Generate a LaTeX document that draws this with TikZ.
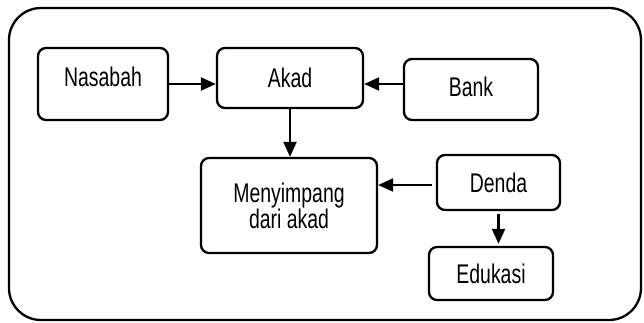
\documentclass[tikz,border=0pt]{standalone}
\usepackage{fontspec}
\setmainfont{Liberation Sans}[FakeStretch=0.72]
\usepackage{tikz}
\usetikzlibrary{calc,arrows.meta}

\tikzset{
  box/.style={draw, line width=2.3pt, rounded corners=8pt, inner sep=0pt},
  txt/.style={text height=19pt, text depth=#1},
  txt/.default=0pt,
  arr/.style={line width=2.2pt, -{Triangle[length=15pt,width=13pt]}}
}

\begin{document}
\begin{tikzpicture}[x=1pt, y=-1pt, font=\fontsize{27}{26}\selectfont]
        \useasboundingbox (0,0) rectangle (644,322);
        \draw[line width=2.3pt, rounded corners=32pt] (9,8) rectangle (641,320);
        \node[box, txt=14pt, minimum width=130pt, minimum height=72pt] (nasabah) at (103,84) {Nasabah};
        \node[box, txt, minimum width=146pt, minimum height=60pt] (akad) at (290,78) {Akad};
        \node[box, txt=5pt, minimum width=134pt, minimum height=61pt] (bank) at (471,89.5) {Bank};
        \node[box, align=center, minimum width=176pt, minimum height=95pt] (menyimpang) at (289,205.5) {Menyimpang\\dari akad};
        \node[box, txt, minimum width=123pt, minimum height=55pt] (denda) at (498.5,182.5) {Denda};
        \node[box, txt, minimum width=124pt, minimum height=53pt] (edukasi) at (491,273.5) {Edukasi};
        \draw[arr] (nasabah.east) -- (nasabah.east -| akad.west);
        \draw[arr] (bank.west |- nasabah.east) -- (nasabah.east -| akad.east);
        \draw[arr] (akad.south) -- (akad.south |- menyimpang.north);
        \draw[arr, shorten <=4pt] ($(denda.west)+(0,2.5)$) -- ($(denda.west -| menyimpang.east)+(0,2.5)$);
        \draw[arr, shorten <=3pt, shorten >=2pt] (denda.south) -- (denda.south |- edukasi.north);
    \end{tikzpicture}
\end{document}
